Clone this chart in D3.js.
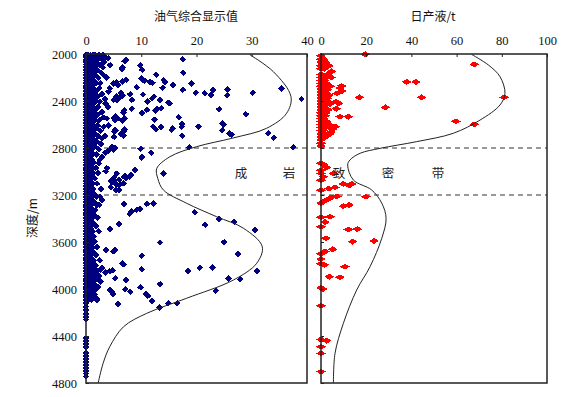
<!DOCTYPE html>
<html lang="zh">
<head>
    <meta charset="UTF-8">
    <title>深度剖面</title>
    <script src="https://cdn.jsdelivr.net/npm/d3@7/dist/d3.min.js"></script>
    <style>
        body { margin: 0; background: #fff; }
        svg { display: block; }
    </style>
</head>
<body>
<script>
    // ---- data ----
    var depthTicks = [2000, 2400, 2800, 3200, 3600, 4000, 4400, 4800];
    var oilTicks = [0, 10, 20, 30, 40];
    var liqTicks = [0, 20, 40, 60, 80, 100];
    var zoneDepths = [2800, 3200];
    var zoneChars = ["成", "岩", "致", "密", "带"];

    // 油气综合显示值: dense band near zero, rows of [depth, [values]]
    var oilDenseRows = [
        [2008, [0, 0.4, 0.8, 1.2, 1.7, 2.3, 3.1]], [2028, [0, 0.4, 0.8, 1.2, 1.9, 2.7, 3.6]],
        [2048, [0, 0.4, 0.8, 1.2, 1.5, 2.1, 2.9]], [2068, [0, 0.4, 0.8, 1.2, 1.8, 3.3]],
        [2090, [0, 0.4, 0.8, 1.2, 2.4]], [2112, [0, 0.4, 0.8, 1.2, 1.6, 3.0]],
        [2134, [0, 0.4, 0.8, 1.2, 2.0]], [2157, [0, 0.4, 0.8, 1.3, 2.7]],
        [2180, [0, 0.4, 0.8, 1.2, 1.7]], [2202, [0, 0.4, 0.8, 1.2, 2.2, 3.7]],
        [2225, [0, 0.4, 0.8, 1.4]], [2247, [0, 0.4, 0.8, 1.2, 1.9, 2.6]],
        [2270, [0, 0.4, 0.8, 1.2]], [2292, [0, 0.4, 0.8, 1.3, 2.4, 4.3]],
        [2315, [0, 0.4, 0.8, 1.2, 1.8]], [2338, [0, 0.4, 0.8, 1.2, 2.9]],
        [2360, [0, 0.4, 0.8, 1.5, 2.1]], [2383, [0, 0.4, 0.8, 1.2, 3.4]],
        [2405, [0, 0.4, 0.8, 1.2, 1.7, 2.5]], [2428, [0, 0.4, 0.8, 1.2]],
        [2450, [0, 0.4, 0.8, 1.3, 2.2, 4.0]], [2473, [0, 0.4, 0.8, 1.2, 1.8]],
        [2495, [0, 0.4, 0.8, 1.2, 2.8]], [2518, [0, 0.4, 0.8, 1.4, 2.0]],
        [2540, [0, 0.4, 0.8, 1.2, 3.1]], [2563, [0, 0.4, 0.8, 1.2, 1.7, 2.4]],
        [2585, [0, 0.4, 0.8, 1.2]], [2608, [0, 0.4, 0.8, 1.3, 2.1, 4.1]],
        [2630, [0, 0.4, 0.8, 1.2, 1.8]], [2653, [0, 0.4, 0.8, 1.2, 2.6]],
        [2675, [0, 0.4, 0.8, 1.5]], [2698, [0, 0.4, 0.8, 1.2, 2.2, 3.4]],
        [2720, [0, 0.4, 0.8, 1.2]], [2743, [0, 0.4, 0.8, 1.3, 1.9]],
        [2765, [0, 0.4, 0.8, 1.2, 2.7]], [2788, [0, 0.4, 0.8, 1.2, 1.6]],
        [2810, [0, 0.4, 0.8, 1.1, 2.3]], [2833, [0, 0.4, 0.8]],
        [2855, [0, 0.4, 0.8, 1.3, 1.9]], [2878, [0, 0.4, 0.8]],
        [2900, [0, 0.4, 0.8, 1.1, 2.5]], [2923, [0, 0.4, 0.8, 1.4]],
        [2945, [0, 0.4, 0.8]], [2968, [0, 0.4, 0.8, 1.2, 1.8]],
        [2990, [0, 0.4, 0.8]], [3013, [0, 0.4, 0.8, 1.3, 2.2]],
        [3035, [0, 0.4, 0.8, 1.0]], [3058, [0, 0.4, 0.8, 1.6]],
        [3080, [0, 0.4, 0.8]], [3103, [0, 0.4, 0.8, 1.2, 2.0]],
        [3125, [0, 0.4, 0.8]], [3148, [0, 0.4, 0.8, 1.3, 2.7]],
        [3170, [0, 0.4, 0.8, 1.0]], [3193, [0, 0.4, 0.8, 1.5]],
        [3215, [0, 0.4, 0.8, 1.1, 1.9]], [3238, [0, 0.4, 0.8]],
        [3260, [0, 0.4, 0.8, 1.4]], [3283, [0, 0.4, 0.8, 1.0, 2.4]],
        [3305, [0, 0.4, 0.8]], [3328, [0, 0.4, 0.8, 1.2, 1.7]],
        [3350, [0, 0.4, 0.8]], [3373, [0, 0.4, 0.8, 1.5]],
        [3395, [0, 0.4, 0.8, 1.1, 2.1]], [3418, [0, 0.4, 0.8]],
        [3440, [0, 0.4, 0.8, 1.3]], [3463, [0, 0.4, 0.8, 1.0, 1.8]],
        [3485, [0, 0.4, 0.8]], [3508, [0, 0.4, 0.8, 1.2, 2.3]],
        [3530, [0, 0.4, 0.8]], [3553, [0, 0.4, 0.8, 1.4]],
        [3575, [0, 0.4, 0.8, 1.0]], [3598, [0, 0.4, 0.8, 1.6]],
        [3620, [0, 0.4, 0.8]], [3643, [0, 0.4, 0.8, 1.2, 2.0]],
        [3665, [0, 0.4, 0.8]], [3688, [0, 0.4, 0.8, 1.3]],
        [3710, [0, 0.4, 0.8, 1.0, 1.9]], [3733, [0, 0.4, 0.8]],
        [3755, [0, 0.4, 0.8, 1.4, 2.5]], [3778, [0, 0.4, 0.8]],
        [3800, [0, 0.4, 0.8, 1.2, 1.7]], [3823, [0, 0.4, 0.8, 1.5, 2.9]],
        [3845, [0, 0.4, 0.8, 1.1, 2.1]], [3868, [0, 0.4, 0.8, 1.6]],
        [3890, [0, 0.4, 0.8, 1.3, 2.4]], [3913, [0, 0.4, 0.8, 1.8]],
        [3935, [0, 0.4, 0.8, 1.2, 2.6]], [3958, [0, 0.4, 0.8, 1.5]],
        [3980, [0, 0.4, 0.8, 1.1, 2.2]], [4003, [0, 0.4, 0.8, 1.7]],
        [4025, [0, 0.4, 0.8, 1.2]], [4048, [0, 0.4, 0.8, 1.5]],
        [4070, [0, 0.4, 0.8]], [4093, [0, 0.4, 1.0]],
        [4120, [0]], [4150, [0]], [4180, [0]], [4210, [0]], [4240, [0]], [4260, [0]],
        [4420, [0]], [4445, [0]], [4470, [0]], [4494, [0]],
        [4545, [0]], [4570, [0]], [4595, [0]], [4620, [0]], [4645, [0]],
        [4670, [0]], [4695, [0]], [4720, [0]], [4745, [0]]
    ];

    // 油气综合显示值: scattered points [value, depth]
    var oilPoints = [
        [17.5, 2045], [4.0, 2037], [7.2, 2050], [7.0, 2062], [9.8, 2096], [6.6, 2112], [6.5, 2130],
        [10.2, 2136], [17.6, 2159], [12.7, 2176], [10.0, 2208], [10.3, 2218], [10.6, 2228], [11.6, 2240],
        [12.0, 2244], [7.3, 2220], [6.6, 2236], [5.5, 2240], [5.8, 2262], [14.1, 2224], [14.3, 2238],
        [15.8, 2264], [19.1, 2249], [9.2, 2284], [13.9, 2286], [17.5, 2306], [23.0, 2306], [25.6, 2300],
        [25.6, 2350], [21.5, 2335], [19.9, 2329], [22.6, 2349], [30.2, 2329], [35.4, 2292], [39.0, 2383],
        [6.3, 2330], [6.6, 2355], [8.0, 2342], [5.5, 2362], [10.3, 2345], [12.3, 2362], [12.0, 2376],
        [5.3, 2380], [5.6, 2392], [6.0, 2376], [8.3, 2390], [11.1, 2405], [13.4, 2390], [14.9, 2414],
        [15.2, 2422], [11.0, 2476], [12.8, 2466], [12.6, 2480], [13.6, 2462], [6.9, 2480], [6.8, 2498],
        [8.3, 2465], [10.1, 2502], [24.1, 2470], [28.9, 2511], [5.3, 2530], [5.8, 2550], [5.0, 2545],
        [7.0, 2550], [6.6, 2568], [12.4, 2560], [16.8, 2539], [17.4, 2596], [17.3, 2620], [13.6, 2620],
        [12.2, 2620], [12.6, 2640], [15.7, 2632], [15.5, 2645], [20.4, 2618], [24.7, 2590], [24.9, 2598],
        [24.7, 2648], [26.0, 2676], [26.4, 2686], [17.4, 2695], [33.0, 2674], [34.0, 2712], [7.0, 2642],
        [6.8, 2658], [5.2, 2645], [5.1, 2662], [6.3, 2682], [6.8, 2692], [5.1, 2705], [18.7, 2794],
        [37.5, 2794], [9.9, 2806], [10.1, 2877], [11.8, 2840], [5.2, 2800], [5.0, 2812], [4.2, 2820],
        [4.0, 2825], [3.5, 2840],
        [4.4, 2094], [3.2, 2179], [5.0, 2250], [4.1, 2321], [3.5, 2420], [2.9, 2491], [5.0, 2392],
        [3.8, 2550], [5.3, 2562], [3.2, 2619], [5.3, 2650], [2.9, 2720], [4.7, 2789], [2.9, 2874],
        [2.3, 2930], [3.8, 2973], [5.6, 3016],
        [14.0, 3016], [3.6, 3000], [7.1, 3035], [6.9, 3045], [7.2, 3055], [5.1, 3050], [4.8, 3065],
        [6.0, 3070], [4.5, 3080], [4.7, 3090], [5.5, 3110], [6.1, 3112], [10.1, 2882], [8.9, 2987],
        [8.1, 3030], [7.9, 3045], [6.8, 3100], [6.0, 3157], [5.4, 3160], [5.1, 3075], [4.8, 3088],
        [4.5, 3135], [2.6, 3215], [2.9, 3243], [2.0, 3285],
        [19.7, 3347], [12.2, 3274], [11.0, 3276], [9.8, 3319], [9.2, 3326], [8.2, 3340], [7.9, 3360],
        [6.9, 3278], [6.0, 3446], [4.3, 3489], [13.4, 3605], [10.1, 3716], [6.6, 3784],
        [24.1, 3404], [26.8, 3427], [21.6, 3455], [30.6, 3500], [25.0, 3602], [27.5, 3704], [3.6, 3668],
        [4.9, 3682], [2.0, 3640], [1.7, 3710], [5.3, 3668], [6.8, 3789], [10.1, 3832], [18.5, 3847],
        [20.6, 3818], [22.9, 3818], [30.9, 3847], [25.8, 3912], [27.9, 3918], [13.4, 3960], [5.3, 3909],
        [7.2, 3923], [4.3, 3850], [3.5, 3860], [4.8, 3840], [2.6, 3835], [9.9, 3986], [7.1, 4003],
        [8.0, 4023], [4.3, 4008], [4.6, 4020], [4.9, 4045], [10.9, 4042], [11.2, 4058], [11.9, 4102],
        [5.8, 4130], [23.5, 4014], [13.3, 4159], [14.9, 4122], [16.5, 4122], [1.9, 4079], [2.0, 4094]
    ];

    // 日产液/t: dense column near zero, rows of [depth, [values]]
    var liqDenseRows = [
        [2015, [0]], [2045, [0, 1.2]], [2070, [0, 2]], [2100, [0, 3.5]], [2125, [0, 1.5]],
        [2175, [0, 2.8]], [2200, [0, 1.6, 4.5]], [2225, [0, 1.5]], [2250, [0, 2.5]],
        [2275, [0, 1.8, 4]], [2300, [0, 1, 3]], [2325, [0, 2]], [2350, [0, 1.2, 3.5]],
        [2375, [0, 1.5, 2.8]], [2400, [0, 1, 2.5]], [2425, [0, 2, 4]], [2450, [0, 1.4]],
        [2475, [0, 1.5, 3]], [2500, [0, 1, 2.2]], [2525, [0, 2]], [2550, [0, 1.2]],
        [2575, [0, 2.5]], [2600, [0, 1, 3.5]], [2625, [0, 2]], [2650, [0, 1]],
        [2680, [0, 1.5, 4]], [2705, [0, 2]], [2730, [0]], [2760, [0]], [2785, [0]]
    ];

    // 日产液/t: scattered points [value, depth]
    var liqPoints = [
        [19.6, 2003], [67.8, 2088], [4.7, 2148], [37.9, 2238], [42.0, 2238], [9.1, 2272], [8.5, 2290],
        [9.2, 2315], [7.1, 2335], [81.0, 2369], [17.0, 2369], [44.5, 2369], [6.6, 2406], [7.8, 2420],
        [28.5, 2454], [6.8, 2466], [8.4, 2533], [12.1, 2533], [59.7, 2573], [67.8, 2599], [6.3, 2619],
        [5.0, 2640], [4.5, 2665],
        [0, 2930], [1.2, 2942], [2.5, 2965], [0, 2990], [5.5, 3016], [0, 3016], [1.0, 3045], [0, 3075],
        [9.9, 3106], [13.6, 3106], [12.5, 3118], [6.2, 3135], [3.5, 3145], [0, 3160], [19.9, 3214],
        [7.0, 3212], [4.5, 3220], [3.0, 3238], [1.5, 3252], [0, 3270], [9.9, 3295], [12.5, 3285],
        [0, 3390], [4.0, 3385], [1.8, 3430], [0, 3470], [12.1, 3494], [16.1, 3490], [2.2, 3568],
        [14.0, 3597], [23.5, 3591], [5.2, 3662], [1.8, 3680], [0, 3700], [0, 3745], [0, 3785],
        [1.5, 3795], [10.6, 3810], [3.7, 3895], [8.4, 3900], [0, 3990], [0.8, 4000], [0, 4142],
        [0, 4430], [2.5, 4440], [0, 4491], [0, 4548], [0, 4703]
    ];

    // trend curves [value, depth]
    var oilCurve = [
        [29.6, 2005], [33.9, 2150], [37.1, 2363], [36.3, 2505], [32.7, 2632], [26.6, 2715], [20.0, 2789],
        [15.2, 2874], [12.8, 2975], [13.0, 3060], [14.0, 3157], [18.2, 3270], [23.6, 3384], [28.5, 3483],
        [31.9, 3639], [30.9, 3781], [26.7, 3923], [18.2, 4079], [11.0, 4207], [6.8, 4321], [4.3, 4491],
        [3.1, 4632], [2.2, 4800]
    ];
    var liqCurve = [
        [66.6, 2003], [74.1, 2094], [79.2, 2193], [81.4, 2335], [79.2, 2434], [70.4, 2562], [58.5, 2675],
        [42.3, 2746], [26.1, 2803], [17.3, 2845], [12.8, 2902], [11.8, 2945], [14.3, 3072], [22.4, 3157],
        [26.9, 3270], [28.8, 3398], [26.9, 3568], [21.7, 3810], [15.8, 4008], [9.9, 4292], [6.2, 4548],
        [5.5, 4800]
    ];

    // ---- canvas ----
    var width = 586, height = 397;
    var svg = d3.select("body").append("svg")
        .attr("width", width)
        .attr("height", height);

    var y = d3.scaleLinear().domain([2000, 4800]).range([54, 383]);
    var xL = d3.scaleLinear().domain([0, 40]).range([86, 307]);
    var xR = d3.scaleLinear().domain([0, 100]).range([321, 547]);

    var serif = "'Liberation Serif', 'Times New Roman', serif";
    var cjk = "'Noto Sans CJK SC', sans-serif";

    function flatten(rows) {
        var out = [];
        rows.forEach(function (r) {
            r[1].forEach(function (v) { out.push([v, r[0]]); });
        });
        return out;
    }

    function diamond(hw, hh) {
        return "M0," + (-hh) + "L" + hw + ",0L0," + hh + "L" + (-hw) + ",0Z";
    }

    // dashed zone lines (span both panels)
    svg.selectAll("line.zone")
        .data(zoneDepths)
        .enter().append("line")
        .attr("x1", xL(0)).attr("x2", xR(100))
        .attr("y1", function (d) { return y(d); })
        .attr("y2", function (d) { return y(d); })
        .attr("stroke", "#333")
        .attr("stroke-width", 1)
        .attr("stroke-dasharray", "5,4");

    // points (crisp edges so overlapping diamonds fill solid, like the raster original)
    var oilAll = flatten(oilDenseRows).concat(oilPoints);
    svg.append("g").attr("shape-rendering", "crispEdges")
        .selectAll("path")
        .data(oilAll)
        .enter().append("path")
        .attr("d", diamond(3.4, 3.3))
        .attr("transform", function (d) { return "translate(" + xL(d[0]) + "," + y(d[1]) + ")"; })
        .attr("fill", "#000080");

    var liqAll = flatten(liqDenseRows).concat(liqPoints);
    svg.append("g").attr("shape-rendering", "crispEdges")
        .selectAll("path")
        .data(liqAll)
        .enter().append("path")
        .attr("d", diamond(4.9, 3.0))
        .attr("transform", function (d) { return "translate(" + xR(d[0]) + "," + y(d[1]) + ")"; })
        .attr("fill", "#ff0000");

    // trend curves
    svg.append("path")
        .datum(oilCurve)
        .attr("d", d3.line().x(function (d) { return xL(d[0]); }).y(function (d) { return y(d[1]); })
            .curve(d3.curveCatmullRom.alpha(0.5)))
        .attr("fill", "none").attr("stroke", "#222").attr("stroke-width", 1);

    svg.append("path")
        .datum(liqCurve)
        .attr("d", d3.line().x(function (d) { return xR(d[0]); }).y(function (d) { return y(d[1]); })
            .curve(d3.curveCatmullRom.alpha(0.5)))
        .attr("fill", "none").attr("stroke", "#222").attr("stroke-width", 1);

    // frames
    [[86, 307], [321, 547]].forEach(function (p) {
        svg.append("rect")
            .attr("x", p[0]).attr("y", 54)
            .attr("width", p[1] - p[0]).attr("height", 383 - 54)
            .attr("fill", "none").attr("stroke", "#222").attr("stroke-width", 1.5);
    });

    // axes
    function styleAxis(g) {
        g.select(".domain").remove();
        g.selectAll(".tick line").attr("stroke", "#222");
        g.selectAll(".tick text").attr("fill", "#111").style("font-family", serif).style("font-size", "12.5px");
    }

    svg.append("g").attr("transform", "translate(0,54)")
        .call(d3.axisTop(xL).tickValues(oilTicks).tickSizeInner(-3).tickSizeOuter(0).tickPadding(9))
        .call(styleAxis);
    svg.append("g").attr("transform", "translate(0,54)")
        .call(d3.axisTop(xR).tickValues(liqTicks).tickSizeInner(-3).tickSizeOuter(0).tickPadding(9))
        .call(styleAxis);
    svg.append("g").attr("transform", "translate(86,0)")
        .call(d3.axisLeft(y).tickValues(depthTicks).tickFormat(d3.format("d"))
            .tickSizeInner(-3).tickSizeOuter(0).tickPadding(9))
        .call(styleAxis);
    svg.append("g").attr("transform", "translate(321,0)")
        .call(d3.axisLeft(y).tickValues(depthTicks).tickSizeInner(-3).tickSizeOuter(0).tickFormat(""))
        .call(styleAxis);

    // titles
    svg.append("text").attr("x", 196).attr("y", 17).attr("dy", "0.35em")
        .attr("text-anchor", "middle").style("font-family", cjk).style("font-size", "12px")
        .attr("fill", "#111").text("油气综合显示值");
    svg.append("text").attr("x", 433).attr("y", 17).attr("dy", "0.35em")
        .attr("text-anchor", "middle").style("font-family", cjk).style("font-size", "12px")
        .attr("fill", "#111").text("日产液/t");
    svg.append("text")
        .attr("transform", "translate(33,218) rotate(-90)")
        .attr("dy", "0.35em").attr("text-anchor", "middle")
        .style("font-family", cjk).style("font-size", "12px").attr("fill", "#111")
        .text("深度/m");

    // zone label
    var zoneX = [241, 289, 339, 388, 438];
    svg.selectAll("text.zone")
        .data(zoneChars)
        .enter().append("text")
        .attr("x", function (d, i) { return zoneX[i]; })
        .attr("y", y(3015))
        .attr("dy", "0.35em")
        .attr("text-anchor", "middle")
        .style("font-family", cjk).style("font-size", "12.5px")
        .attr("fill", "#222")
        .text(function (d) { return d; });
</script>
</body>
</html>
